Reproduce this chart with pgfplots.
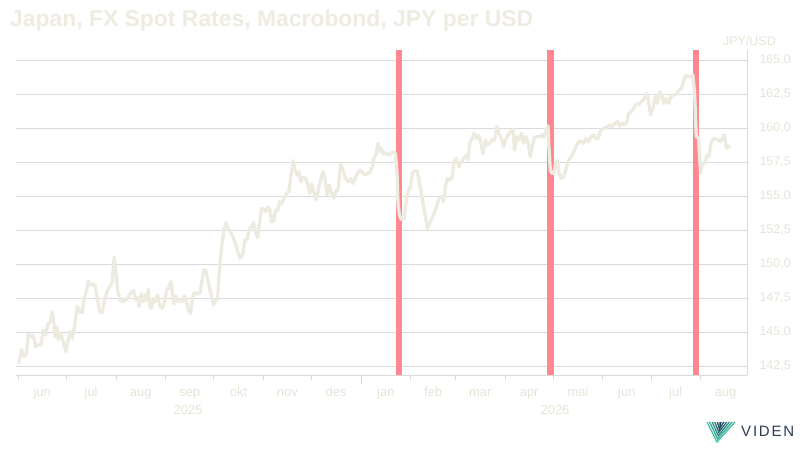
\documentclass[border=0pt]{standalone}
\usepackage{pgfplots}
\pgfplotsset{compat=1.18}
\usepackage{pgfplotstable}
\usepackage{fontspec}
\setmainfont{Liberation Sans}
\definecolor{titlec}{HTML}{EEEBE0}
\definecolor{linec}{HTML}{EDEADF}
\definecolor{labc}{HTML}{E6E3D6}
\definecolor{gridc}{HTML}{DADADA}
\definecolor{barc}{HTML}{FF8790}
\definecolor{navy}{HTML}{2B3A55}
\definecolor{tealA}{HTML}{3FC2A0}
\definecolor{tealB}{HTML}{1F3B5C}

% day 0 = 1 Jun 2025
\pgfplotstableread{
day val
0.4 142.74
2.1 143.73
3.6 143.18
5.2 143.43
6.2 144.85
7.9 144.65
9.4 144.78
10.9 143.92
12.1 144.04
14.2 144.04
15.6 145.15
17.1 144.78
18.7 145.64
20.2 145.76
21.2 146.49
22.3 145.64
22.9 144.65
24.0 145.39
25.0 144.41
26.5 144.90
28.1 144.29
29.8 143.55
31.2 144.41
32.3 145.02
33.7 144.54
35.4 145.64
36.8 146.86
38.5 146.49
39.9 146.42
41.2 147.48
42.7 148.09
43.7 148.77
44.7 148.46
46.2 148.51
47.9 148.46
49.3 147.48
51.0 146.49
52.4 146.42
54.1 147.48
55.8 148.09
57.2 148.33
58.7 148.70
59.9 150.49
61.0 149.43
62.0 148.14
63.5 147.35
64.9 147.23
67.0 147.35
68.6 147.55
70.8 147.96
72.2 148.04
73.3 147.35
74.5 147.55
75.5 146.86
76.8 147.84
78.0 147.23
79.1 147.72
80.1 147.35
81.1 148.14
82.2 146.91
83.2 146.74
84.2 147.35
85.3 147.23
87.0 147.72
88.4 146.91
89.9 146.74
91.6 147.35
92.6 148.09
94.0 148.21
95.3 148.70
96.1 147.96
97.2 147.06
98.4 147.65
99.5 147.23
100.9 147.35
102.3 147.23
103.6 147.65
105.1 147.23
106.1 146.62
107.6 146.37
108.8 147.48
109.8 147.89
111.3 147.84
113.4 147.84
114.8 148.82
116.1 149.61
117.1 149.51
118.6 148.70
120.7 147.60
121.9 146.99
123.2 147.35
124.4 147.40
125.9 150.05
127.3 151.52
128.5 152.55
129.8 153.04
131.0 152.63
132.5 152.38
134.2 151.96
135.8 151.40
137.3 150.79
138.5 150.42
140.0 150.59
141.5 151.76
142.9 151.82
144.1 152.50
145.6 152.74
146.9 153.04
147.9 152.38
149.4 151.96
150.6 152.99
151.9 154.10
153.3 154.02
154.6 153.85
156.0 154.21
157.1 154.02
158.1 153.11
159.4 153.18
160.6 153.97
161.9 153.92
163.3 154.58
164.7 154.46
166.0 154.83
167.5 155.20
168.9 155.32
170.2 156.42
171.6 157.60
172.8 156.91
174.1 156.54
175.3 156.79
176.4 156.05
177.8 156.38
179.3 156.30
180.6 155.93
182.0 155.20
183.1 155.88
184.5 155.32
185.8 154.71
187.2 155.32
187.6 155.69
189.3 156.42
190.3 156.79
191.4 156.42
192.8 155.07
194.1 155.81
195.6 155.20
197.0 154.83
198.2 155.32
199.7 155.49
201.2 157.40
202.8 156.91
204.3 156.30
205.9 156.05
207.6 156.30
209.0 155.93
210.5 156.30
212.2 156.79
213.8 156.91
215.3 156.67
216.3 156.54
218.0 156.67
219.5 156.72
220.9 157.04
222.0 157.77
223.2 158.01
224.6 158.88
225.7 158.26
226.8 158.51
228.2 158.09
229.4 158.19
230.9 158.01
232.6 158.09
234.0 158.26
235.5 158.14
236.5 156.67
237.1 154.46
238.0 153.60
238.8 153.36
239.9 153.24
240.9 153.36
241.7 154.21
243.4 155.32
244.9 155.69
246.1 156.67
247.6 156.86
249.0 156.86
250.2 156.18
251.7 155.20
253.2 154.10
254.4 153.36
255.5 152.63
256.9 153.00
258.3 153.36
260.0 153.85
261.5 154.34
262.7 154.83
264.2 154.95
265.6 154.58
266.9 155.81
267.9 156.30
269.4 156.18
270.8 156.30
272.1 157.52
273.6 157.77
275.2 157.15
276.7 157.52
278.1 157.77
279.8 158.01
280.8 157.65
281.9 158.88
283.3 159.24
284.5 159.61
286.0 159.24
287.5 159.49
288.7 158.99
290.2 158.09
291.7 159.12
292.9 158.75
294.3 158.88
295.8 159.12
297.5 159.12
298.9 160.10
300.1 159.61
301.6 159.24
303.1 158.63
304.3 159.12
305.8 159.49
307.3 159.73
308.9 159.91
309.9 158.38
311.4 159.36
312.6 159.12
314.1 159.61
315.6 158.88
316.8 159.36
318.2 158.99
319.7 157.89
321.0 158.75
322.4 159.32
324.1 159.36
325.5 159.36
327.0 159.49
328.0 159.32
329.3 159.66
330.7 160.15
331.3 158.63
332.2 156.91
333.2 156.67
334.5 156.67
335.5 157.40
336.6 157.60
337.6 156.67
339.1 156.30
340.5 156.42
342.2 157.04
343.8 157.65
345.3 157.89
346.9 158.26
348.4 158.68
350.0 158.99
351.5 158.99
353.0 158.88
354.6 159.24
356.1 158.99
357.8 159.36
359.2 159.49
360.5 159.24
361.9 159.24
363.4 159.73
364.7 159.91
366.1 159.98
367.8 160.10
369.3 160.22
370.7 160.10
372.4 160.35
374.1 160.46
375.5 160.15
376.9 160.35
378.6 160.22
380.0 160.46
381.1 161.08
382.8 161.20
384.2 161.45
385.9 161.76
387.3 161.69
389.0 161.93
390.6 162.10
392.1 162.55
393.1 162.18
394.8 160.96
396.3 161.45
397.8 162.30
399.0 161.82
400.4 162.67
401.9 162.35
403.1 161.82
404.6 162.18
406.0 161.82
407.7 162.30
409.2 162.43
410.8 162.50
412.3 162.74
414.0 162.92
415.4 163.40
416.5 163.85
418.1 163.77
419.6 163.77
421.2 163.90
422.3 162.55
423.3 159.36
424.8 159.24
425.4 157.89
426.0 156.67
427.1 157.40
428.5 157.40
430.0 158.01
431.2 157.89
432.7 158.99
434.2 159.24
435.8 159.17
437.3 159.12
438.5 158.99
439.6 159.24
441.0 159.49
442.1 158.51
443.1 158.68
444.2 158.58
}\fxdata

\begin{document}
\begin{tikzpicture}[x=1pt,y=1pt]
\path[use as bounding box] (0,0) rectangle (800,450);
\begin{axis}[
  at={(16pt,75pt)}, anchor=south west,
  width=731pt, height=325pt, scale only axis,
  xmin=-1.4, xmax=455, ymin=141.84, ymax=165.735,
  axis x line*=bottom, axis y line*=right,
  axis line style={gridc, line width=0.8pt},
  ytick={142.5,145,147.5,150,152.5,155,157.5,160,162.5,165},
  ymajorgrids, major grid style={gridc, line width=0.8pt},
  ytick style={draw=none},
  /pgf/number format/assume math mode=true,
  yticklabel={\pgfmathprintnumber[fixed,fixed zerofill,precision=1,use comma]{\tick}},
  yticklabel style={anchor=west, xshift=4pt, text=labc, font=\fontsize{12.5}{14}\selectfont},
  xtick={0,30,61,92,122,153,183,214,245,273,304,334,365,395,426},
  xticklabels={},
  tick align=outside,
  xtick style={gridc, line width=0.8pt},
  major tick length=5pt,
  extra x ticks={15,45.5,76.5,107,137.5,168,198.5,229.5,259,288.5,319,349.5,380,410.5,441.5},
  extra x tick labels={jun,jul,aug,sep,okt,nov,des,jan,feb,mar,apr,mai,jun,jul,aug},
  extra x tick style={major tick length=0pt, xtick style={draw=none}},
  xticklabel style={text=labc, font=\fontsize{13}{15}\selectfont, text height=9.5pt, text depth=3pt, yshift=-8pt},
  clip mode=individual,
]
\addplot[fill=barc, draw=none] coordinates {(235.7,141.84) (235.7,165.735) (239.6,165.735) (239.6,141.84)} -- cycle;
\addplot[fill=barc, draw=none] coordinates {(330.3,141.84) (330.3,165.735) (334.4,165.735) (334.4,141.84)} -- cycle;
\addplot[fill=barc, draw=none] coordinates {(421.0,141.84) (421.0,165.735) (425.2,165.735) (425.2,141.84)} -- cycle;
\addplot[linec, line width=3.3pt, line join=round, line cap=round] table {\fxdata};
\draw[gridc, line width=0.8pt] (axis cs:214,141.84) -- ([yshift=-9pt]axis cs:214,141.84);
\end{axis}
% title
\node[anchor=base west, inner sep=0pt, text=titlec, font=\bfseries\fontsize{22.9}{26}\selectfont] at (10,423) {Japan, FX Spot Rates, Macrobond, JPY per USD};
\node[anchor=east, inner sep=0pt, text=labc, font=\fontsize{12.5}{14}\selectfont] at (776,409) {JPY/USD};
% years
\node[text=labc, font=\fontsize{13}{15}\selectfont] at (188,40) {2025};
\node[text=labc, font=\fontsize{13}{15}\selectfont] at (555,40) {2026};
% logo
\foreach \i/\c in {0/100,1/80,2/60,3/40,4/20,5/0}{
  \draw[color=tealA!\c!tealB, line width=1.3pt, line join=miter]
    (707+2.6*\i,28) -- (717+0.6*\i,8+3.2*\i) -- (735-2.8*\i,28);
}
\node[anchor=west, inner sep=0pt, text=navy, font=\fontsize{15}{16}\selectfont\addfontfeature{LetterSpace=12}] at (741,19) {VIDEN};
\end{tikzpicture}
\end{document}
